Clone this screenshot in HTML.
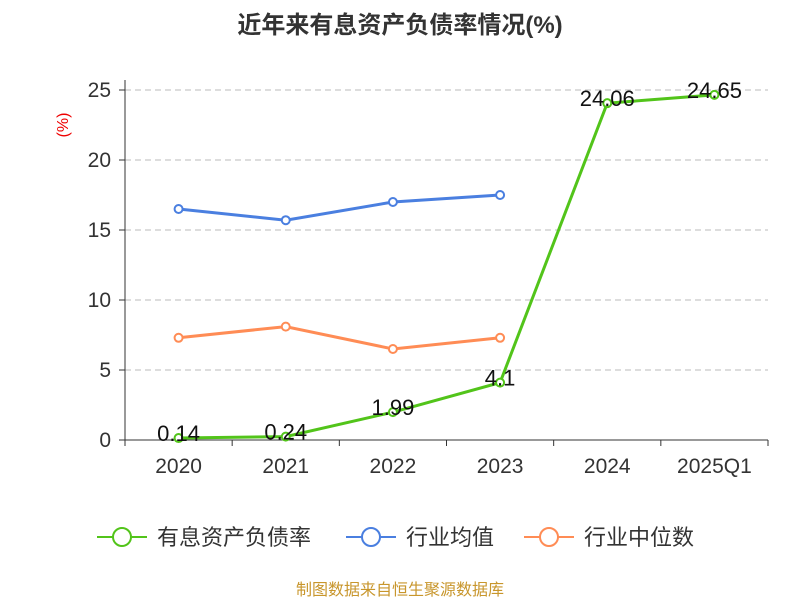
<!DOCTYPE html>
<html><head><meta charset="utf-8"><style>
body{margin:0;background:#fff;font-family:"Liberation Sans","Noto Sans CJK SC",sans-serif}
svg text{font-family:"Liberation Sans","Noto Sans CJK SC",sans-serif}
</style></head><body>
<svg id="c" width="800" height="600" xmlns="http://www.w3.org/2000/svg">
<text x="400" y="33" text-anchor="middle" font-size="24" font-weight="bold" fill="#333">近年来有息资产负债率情况(%)</text>
<text x="68" y="125" text-anchor="middle" font-size="16" fill="#e00" transform="rotate(-90 68 125)">(%)</text>
<g id="grid"></g><g id="axes"></g><g id="series"></g>
<g>
<g><line x1="97" y1="537" x2="147" y2="537" stroke="#52c41a" stroke-width="2"/><circle cx="122" cy="537" r="9" fill="#fff" stroke="#52c41a" stroke-width="2"/><text x="157" y="545" font-size="22" fill="#333">有息资产负债率</text></g>
<g><line x1="346" y1="537" x2="396" y2="537" stroke="#4a7fe0" stroke-width="2"/><circle cx="371" cy="537" r="9" fill="#fff" stroke="#4a7fe0" stroke-width="2"/><text x="406" y="545" font-size="22" fill="#333">行业均值</text></g>
<g><line x1="524" y1="537" x2="574" y2="537" stroke="#ff8c55" stroke-width="2"/><circle cx="549" cy="537" r="9" fill="#fff" stroke="#ff8c55" stroke-width="2"/><text x="584" y="545" font-size="22" fill="#333">行业中位数</text></g>
</g>
<text x="400" y="595" text-anchor="middle" font-size="16" fill="#c8962c">制图数据来自恒生聚源数据库</text>
</svg>
<script>
const categories=["2020","2021","2022","2023","2024","2025Q1"];
const debtRatio=[0.14,0.24,1.99,4.1,24.06,24.65];
const industryAvg=[16.5,15.7,17.0,17.5];
const industryMedian=[7.3,8.1,6.5,7.3];
const yTicks=[0,5,10,15,20,25];
const NS="http://www.w3.org/2000/svg";
const x0=125,x1=768,y0=440,y1=90,yMax=25;
const bw=(x1-x0)/categories.length;
const X=i=>x0+bw*(i+0.5);
const Y=v=>y0-(v/yMax)*(y0-y1);
function mk(p,t,a){const e=document.createElementNS(NS,t);for(const k in a)e.setAttribute(k,a[k]);p.appendChild(e);return e;}
const grid=document.getElementById('grid'),axes=document.getElementById('axes'),ser=document.getElementById('series');
yTicks.forEach(v=>{
 if(v>0){const l=mk(grid,'line',{x1:x0,x2:x1,y1:Y(v),y2:Y(v),stroke:'#bbb','stroke-dasharray':'6,4'});
 
 }
 mk(axes,'line',{x1:x0-6,x2:x0,y1:Y(v),y2:Y(v),stroke:'#333'});
 const t=mk(axes,'text',{x:x0-14,y:Y(v)+7,'text-anchor':'end','font-size':21,fill:'#333'});t.textContent=v;
 
 
});
mk(axes,'line',{x1:x0,x2:x0,y1:y1-10,y2:y0,stroke:'#333'});
mk(axes,'line',{x1:x0,x2:x1,y1:y0,y2:y0,stroke:'#333'});
for(let i=0;i<=categories.length;i++)mk(axes,'line',{x1:x0+bw*i,x2:x0+bw*i,y1:y0,y2:y0+6,stroke:'#333'});
categories.forEach((c,i)=>{const t=mk(axes,'text',{x:X(i),y:y0+33,'text-anchor':'middle','font-size':21,fill:'#333'});t.textContent=c;
 
 });
function series(vals,color,name,labels){
 const g=mk(ser,'g',{});
 
 
 mk(g,'polyline',{points:vals.map((v,i)=>X(i)+','+Y(v)).join(' '),fill:'none',stroke:color,'stroke-width':3});
 vals.forEach((v,i)=>{const c=mk(g,'circle',{cx:X(i),cy:Y(v),r:4,fill:'#fff',stroke:color,'stroke-width':2});
  
  
  if(labels){const t=mk(g,'text',{x:X(i),y:Y(v)+3,'text-anchor':'middle','font-size':22,fill:'#111'});t.textContent=v;
   
   }});
}
series(industryAvg,'#4a7fe0','industry-avg-line',false);
series(industryMedian,'#ff8c55','industry-median-line',false);
series(debtRatio,'#52c41a','debt-ratio-line',true);
</script>
</body></html>
